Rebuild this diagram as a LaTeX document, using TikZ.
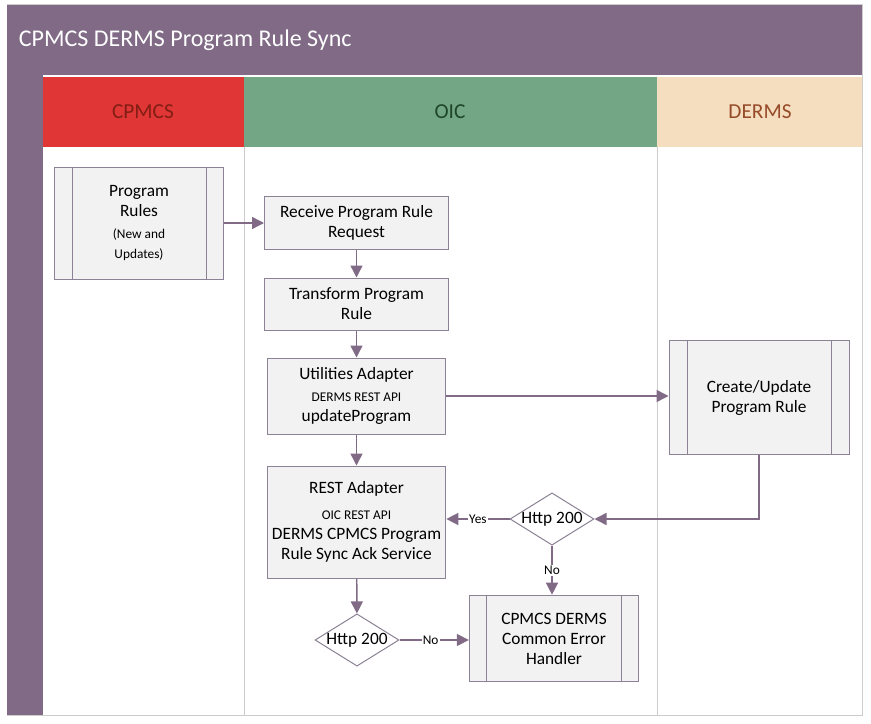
\documentclass[tikz,border=0pt]{standalone}
\usepackage{fontspec}
\setmainfont{Carlito}
\usetikzlibrary{arrows.meta,shapes.geometric}
\definecolor{lanepurple}{RGB}{128,106,134}
\definecolor{boxline}{RGB}{140,130,150}
\definecolor{boxfill}{RGB}{242,242,242}
\tikzset{every picture/.style={line width=0.75pt}}
\tikzset{
  step/.style={draw=boxline,fill=boxfill,minimum width=#1,inner sep=1pt,align=center,font=\fontsize{13}{15}\selectfont},
  step/.default=138pt,
  cond/.style={diamond,draw=boxline,fill=white,aspect=1.6,minimum width=63pt,minimum height=39pt,inner sep=0pt,font=\fontsize{13}{15}\selectfont},
  flow/.style={draw=lanepurple,line width=1.1pt,-{Triangle[length=9pt,width=9pt]}},
  tag/.style={fill=white,inner sep=1pt,font=\fontsize{10}{12}\selectfont},
  small/.style={font=\fontsize{10}{14}\selectfont}
}
\begin{document}
\begin{tikzpicture}[x=0.75pt,y=0.75pt,yscale=-1,xscale=1]
\useasboundingbox (0,0) rectangle (871,724);

%Frame and title bar
\draw [draw=gray!40,fill=white] (7,5) rectangle (862,715);
\fill [lanepurple] (7,5) rectangle (862,75);
\fill [lanepurple] (7,75) rectangle (43,715);
\node (title) [anchor=west,text=white,font=\fontsize{18}{22}\selectfont] at (14,40) {CPMCS DERMS Program Rule Sync};

%Lane headers
\fill [fill={rgb,255:red,224;green,54;blue,54}] (43,77) rectangle (244,147);
\fill [fill={rgb,255:red,114;green,166;blue,132}] (244,77) rectangle (657,147);
\fill [fill={rgb,255:red,245;green,222;blue,192}] (657,77) rectangle (862,147);
\node (cpmcs) [text={rgb,255:red,130;green,30;blue,20},font=\fontsize{16}{20}\selectfont] at (143,112) {CPMCS};
\node (oic) [text={rgb,255:red,30;green,70;blue,40},font=\fontsize{16}{20}\selectfont] at (450,112) {OIC};
\node (derms) [text={rgb,255:red,150;green,75;blue,40},font=\fontsize{16}{20}\selectfont] at (760,112) {DERMS};
\draw [gray!40] (244,147) -- (244,715) ;
\draw [gray!40] (657,147) -- (657,715) ;

%Subprocess: Program Rules
\node (rules) [step=127pt,minimum height=84pt] at (139,223) {Program\\Rules\\[2pt]{\small\fontsize{10}{16}\selectfont (New and}\\{\fontsize{10}{12}\selectfont Updates)}};
\draw [boxline] (72,167) -- (72,279) ;
\draw [boxline] (206,167) -- (206,279) ;

%Steps
\node (receive) [step,minimum height=40pt] at (356.5,223) {Receive Program Rule\\Request};
\node (transform) [step,minimum height=39pt] at (356.5,304) {Transform Program\\Rule};
\node (utility) [step=134pt,minimum height=57pt] at (356.5,396) {Utilities Adapter\\[1pt]{\fontsize{10}{14}\selectfont DERMS REST API}\\updateProgram};
\node (rest) [step=134pt,minimum height=84pt] at (356.5,522) {REST Adapter\\[4pt]{\fontsize{10}{14}\selectfont OIC REST API}\\DERMS CPMCS Program\\Rule Sync Ack Service};

%Subprocess: Create/Update
\node (update) [step=135pt,minimum height=85pt] at (759,397.5) {Create/Update\\Program Rule};
\draw [boxline] (687,341) -- (687,454) ;
\draw [boxline] (831,341) -- (831,454) ;

%Decisions
\node (check1) [cond] at (552,519) {Http 200};
\node (check2) [cond] at (357,640) {Http 200};

%Subprocess: Error handler
\node (error) [step=127pt,minimum height=65pt] at (554,638.5) {CPMCS DERMS\\Common Error\\Handler};
\draw [boxline] (486,595) -- (486,682) ;
\draw [boxline] (621,595) -- (621,682) ;

%Connectors
\draw [flow] (rules) -- (receive) ;
\draw [flow] (receive) -- (transform) ;
\draw [flow] (transform) -- (utility) ;
\draw [flow] (utility) -- (rest) ;
\draw [flow] (utility) -- (update.west |- utility) ;
\draw [flow] (update.south) |- (check1.east) ;
\draw [flow] (check1) -- node [tag] {Yes} (rest.east |- check1) ;
\draw [flow] (check1) -- node [tag] {No} (error.north -| check1) ;
\draw [flow] (rest) -- (check2) ;
\draw [flow] (check2) -- node [tag,pos=0.45] {No} (error.west |- check2) ;

\end{tikzpicture}
\end{document}
